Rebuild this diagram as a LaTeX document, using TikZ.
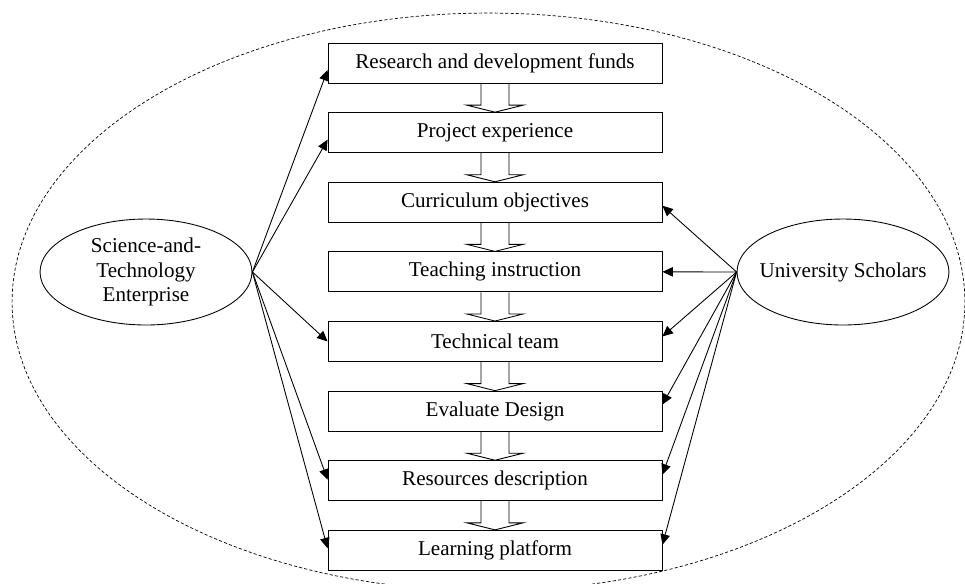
\documentclass[tikz,border=0pt]{standalone}
\usepackage{fontspec}
\setmainfont{Liberation Serif}
\usepackage{tikz}
\usetikzlibrary{shapes, arrows.meta, positioning, calc}

\begin{document}
\begin{tikzpicture}[
  x=0.02cm, y=-0.02cm,
  box/.style={draw, line width=0.5pt, minimum width=6.68cm, minimum height=0.8cm, inner sep=0pt, font=\fontsize{12}{14}\selectfont},
  actor/.style={draw, ellipse, line width=0.5pt, minimum width=4.24cm, minimum height=2.12cm, inner xsep=-0.3cm, inner ysep=0pt, align=center, font=\fontsize{12}{14}\selectfont},
  arrow/.style={-{Triangle[length=0.21cm, width=0.19cm]}, line width=0.5pt},
  flow/.style={line width=0.5pt}
]
  \useasboundingbox (0,0) rectangle (965,583);

  % Outer dashed boundary
  \draw[line width=0.4pt, dash pattern=on 1.8pt off 1.2pt] (488.5,302) ellipse [x radius=9.53cm, y radius=5.78cm];

  % Chain of stages
  \node[box] (rd) at (495,63) {Research and development funds};
  \node[box, below=0.575cm of rd] (pe) {Project experience};
  \node[box, below=0.575cm of pe] (co) {Curriculum objectives};
  \node[box, below=0.575cm of co] (ti) {Teaching instruction};
  \node[box, below=0.575cm of ti] (tt) {Technical team};
  \node[box, below=0.575cm of tt] (ev) {Evaluate Design};
  \node[box, below=0.575cm of ev] (rs) {Resources description};
  \node[box, below=0.575cm of rs] (lp) {Learning platform};

  \foreach \a/\b in {rd/pe, pe/co, co/ti, ti/tt, tt/ev, ev/rs, rs/lp}
    \draw[flow] ($(\a.south)+(-14,0)$) -- ($(\b.north)+(-14,-7)$) -- ($(\b.north)+(-28,-7)$)
      -- (\b.north) -- ($(\b.north)+(28,-7)$) -- ($(\b.north)+(14,-7)$) -- ($(\a.south)+(14,0)$);

  % Actors
  \node[actor] (ste) at (146,272) {Science-and-\\Technology\\Enterprise};
  \node[actor] (us) at (843,272) {University Scholars};

  % Enterprise side
  \draw[arrow] (ste.east) -- ([yshift=-0.14cm]rd.west);
  \draw[arrow] (ste.east) -- ([yshift=-0.14cm]pe.west);
  \draw[arrow] (ste.east) -- (tt.west);
  \draw[arrow] (ste.east) -- ([yshift=0.02cm]rs.west);
  \draw[arrow] (ste.east) -- ([yshift=0.04cm]lp.west);

  % Scholars side
  \draw[arrow] (us.west) -- ([yshift=-0.07cm]co.east);
  \draw[arrow] (us.west) -- (ti.east);
  \draw[arrow] (us.west) -- ([yshift=0.1cm]tt.east);
  \draw[arrow] (us.west) -- ([yshift=0.13cm]ev.east);
  \draw[arrow] (us.west) -- ([yshift=0.12cm]rs.east);
  \draw[arrow] (us.west) -- ([yshift=0.11cm]lp.east);
\end{tikzpicture}
\end{document}
